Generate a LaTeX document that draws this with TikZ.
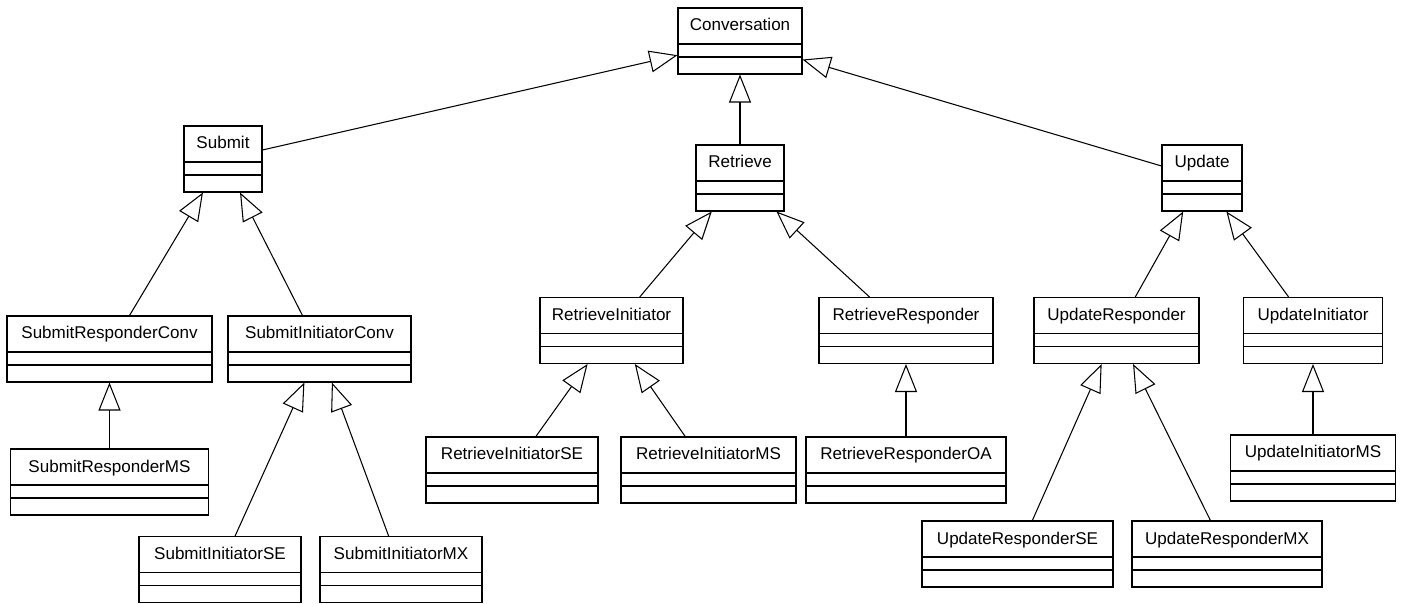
\documentclass[tikz,border=0pt]{standalone}
\usepackage{fontspec}
\setmainfont{Liberation Sans}
\usetikzlibrary{arrows.meta,calc}

\tikzset{
  umlclass/.style={draw, rectangle, line width=0.6pt, fill=white,
    minimum height=1.32cm, inner xsep=0pt, inner ysep=0pt,
    text height=0.46cm, text depth=0.86cm,
    font=\fontsize{9.7}{11}\selectfont,
    path picture={
      \draw[line width=0.6pt] ([yshift=-0.72cm]path picture bounding box.north west) -- ([yshift=-0.72cm]path picture bounding box.north east);
      \draw[line width=0.6pt] ([yshift=-0.98cm]path picture bounding box.north west) -- ([yshift=-0.98cm]path picture bounding box.north east);
    }},
  generalization/.style={-{Triangle[open,length=0.56cm,width=0.44cm]}, line width=0.6pt}
}

\begin{document}
\begin{tikzpicture}
  \useasboundingbox (0,0) rectangle (28.02,12.06);

  % Root
  \node[umlclass, minimum width=2.48cm] (conv) at (14.80,11.24) {Conversation};

  % Second level
  \node[umlclass, minimum width=1.56cm] (submit) at (4.46,8.88) {Submit};
  \node[umlclass, minimum width=1.76cm] (retrieve) at (14.80,8.50) {Retrieve};
  \node[umlclass, minimum width=1.60cm] (update) at (24.04,8.50) {Update};

  % Third level
  \node[umlclass, minimum width=4.10cm] (subresp) at (2.19,5.08) {SubmitResponderConv};
  \node[umlclass, minimum width=3.66cm] (subinit) at (6.39,5.08) {SubmitInitiatorConv};
  \node[umlclass, minimum width=2.86cm] (retinit) at (12.23,5.45) {RetrieveInitiator};
  \node[umlclass, minimum width=3.48cm] (retresp) at (18.12,5.45) {RetrieveResponder};
  \node[umlclass, minimum width=3.30cm] (updresp) at (22.33,5.45) {UpdateResponder};
  \node[umlclass, minimum width=2.78cm] (updinit) at (26.26,5.45) {UpdateInitiator};

  % Leaves
  \node[umlclass, minimum width=3.96cm] (subrespms) at (2.19,2.42) {SubmitResponderMS};
  \node[umlclass, minimum width=3.24cm] (subinitse) at (4.40,0.67) {SubmitInitiatorSE};
  \node[umlclass, minimum width=3.24cm] (subinitmx) at (8.02,0.67) {SubmitInitiatorMX};
  \node[umlclass, minimum width=3.44cm] (retinitse) at (10.24,2.66) {RetrieveInitiatorSE};
  \node[umlclass, minimum width=3.50cm] (retinitms) at (14.17,2.66) {RetrieveInitiatorMS};
  \node[umlclass, minimum width=4.00cm] (retrespoa) at (18.12,2.66) {RetrieveResponderOA};
  \node[umlclass, minimum width=3.30cm] (updinitms) at (26.26,2.70) {UpdateInitiatorMS};
  \node[umlclass, minimum width=3.82cm] (updrespse) at (20.35,0.98) {UpdateResponderSE};
  \node[umlclass, minimum width=3.80cm] (updrespmx) at (24.54,0.98) {UpdateResponderMX};

  % Inheritance
  \foreach \child/\parent in {submit/conv, retrieve/conv, update/conv,
      subresp/submit, subinit/submit, retinit/retrieve, retresp/retrieve,
      updresp/update, updinit/update, subrespms/subresp, subinitse/subinit,
      subinitmx/subinit, retinitse/retinit, retinitms/retinit,
      retrespoa/retresp, updinitms/updinit, updrespse/updresp, updrespmx/updresp} {
    \draw[generalization] (\child) -- (\parent);
  }
\end{tikzpicture}
\end{document}
